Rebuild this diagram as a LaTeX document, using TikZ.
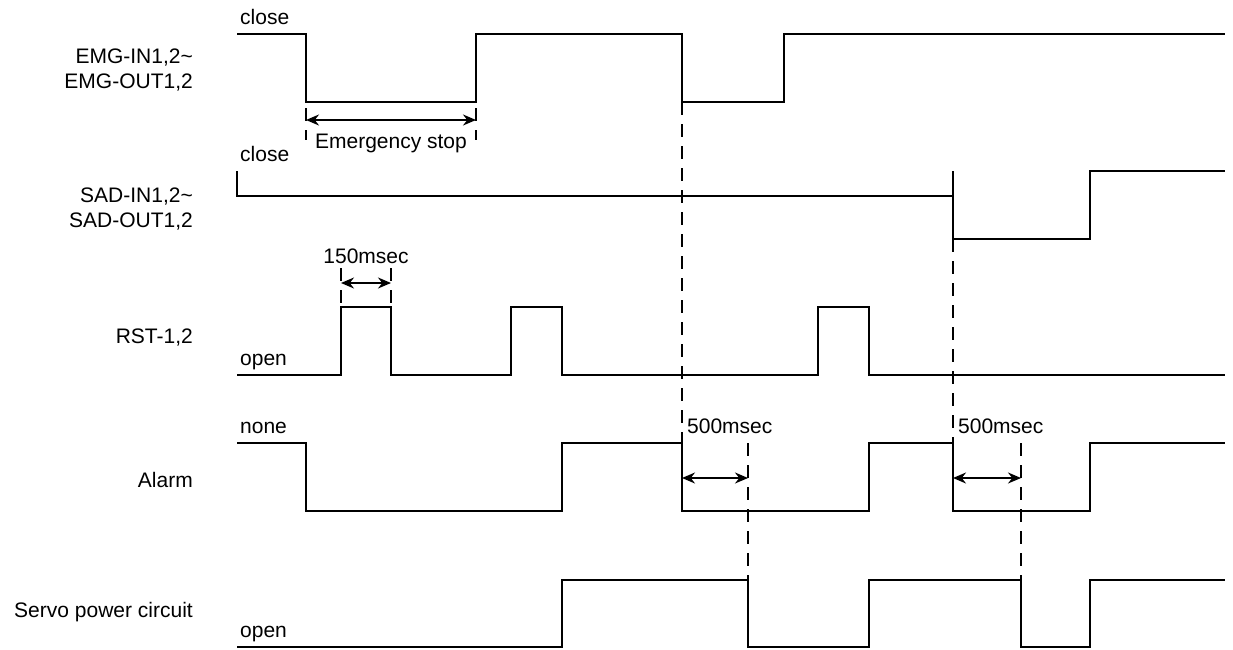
\documentclass[tikz,border=0pt]{standalone}
\usepackage{fontspec}
\setmainfont{Liberation Sans}
\usetikzlibrary{arrows.meta}

\begin{document}
\begin{tikzpicture}[
    x=1pt, y=-1pt,
    font=\fontsize{21}{25}\selectfont,
    gelombang/.style={line width=1.9pt, line join=miter},
    putus/.style={line width=1.7pt, dash pattern=on 13pt off 9pt},
    ukur/.style={{Stealth[length=13pt,width=11pt]}-{Stealth[length=13pt,width=11pt]}, line width=1.7pt},
    nama/.style={anchor=east, align=right, inner sep=0pt},
    level/.style={anchor=base west, inner sep=0pt}
  ]
    \useasboundingbox (0,0) rectangle (1233,649);

    \node[nama] (emg) at (193,70) {EMG-IN1,2\textasciitilde\\EMG-OUT1,2};
    \node[nama] (sad) at (193,209) {SAD-IN1,2\textasciitilde\\SAD-OUT1,2};
    \node[nama] (rst) at (193,338) {RST-1,2};
    \node[nama] (alarm) at (193,480) {Alarm};
    \node[nama] (servo) at (193,612) {Servo power circuit};

    \node[level] (emgtutup) at (240,24) {close};
    \node[level] (sadtutup) at (240,161) {close};
    \node[level] (rstbuka) at (240,365) {open};
    \node[level] (alarmnone) at (240,433) {none};
    \node[level] (servobuka) at (240,637) {open};

    \draw[gelombang] (237,34) -| (306,102) -| (476,34) -| (682,102) -| (784,34) -- (1225,34);
    \draw[gelombang] (237,171) |- (953,196);
    \draw[gelombang] (953,171) |- (1090,239) |- (1225,171);
    \draw[gelombang] (237,375) -| (341,307) -| (391,375) -| (511,307) -| (562,375)
                     -| (818,307) -| (869,375) -- (1225,375);
    \draw[gelombang] (237,443) -| (306,511) -| (562,443) -| (682,511) -| (869,443)
                     -| (953,511) -| (1090,443) -- (1225,443);
    \draw[gelombang] (237,647) -| (562,580) -| (748,647) -| (869,580) -| (1021,647)
                     -| (1090,580) -- (1225,580);

    \coordinate (es1) at (306,120);
    \coordinate (es2) at (476,120);
    \draw[putus] (306,108) -- (306,140);
    \draw[putus] (476,108) -- (476,140);
    \draw[ukur] (es1) -- (es2);
    \node[inner sep=0pt] (esteks) at (391,143) {Emergency stop};

    \coordinate (rs1) at (341,283);
    \coordinate (rs2) at (391,283);
    \draw[putus] (341,268) -- (341,307);
    \draw[putus] (391,268) -- (391,307);
    \draw[ukur] (rs1) -- (rs2);
    \node[inner sep=0pt] (rsteks) at (366,256) {150msec};

    \draw[putus] (682,102) -- (682,443);
    \draw[putus] (748,443) -- (748,580);
    \draw[putus] (953,239) -- (953,443);
    \draw[putus] (1021,443) -- (1021,580);

    \coordinate (al1) at (682,478);
    \coordinate (al2) at (748,478);
    \coordinate (al3) at (953,478);
    \coordinate (al4) at (1021,478);
    \draw[ukur] (al1) -- (al2);
    \draw[ukur] (al3) -- (al4);
    \node[anchor=west, inner sep=0pt] (alteks1) at (687,426) {500msec};
    \node[anchor=west, inner sep=0pt] (alteks2) at (958,426) {500msec};
  \end{tikzpicture}
\end{document}
